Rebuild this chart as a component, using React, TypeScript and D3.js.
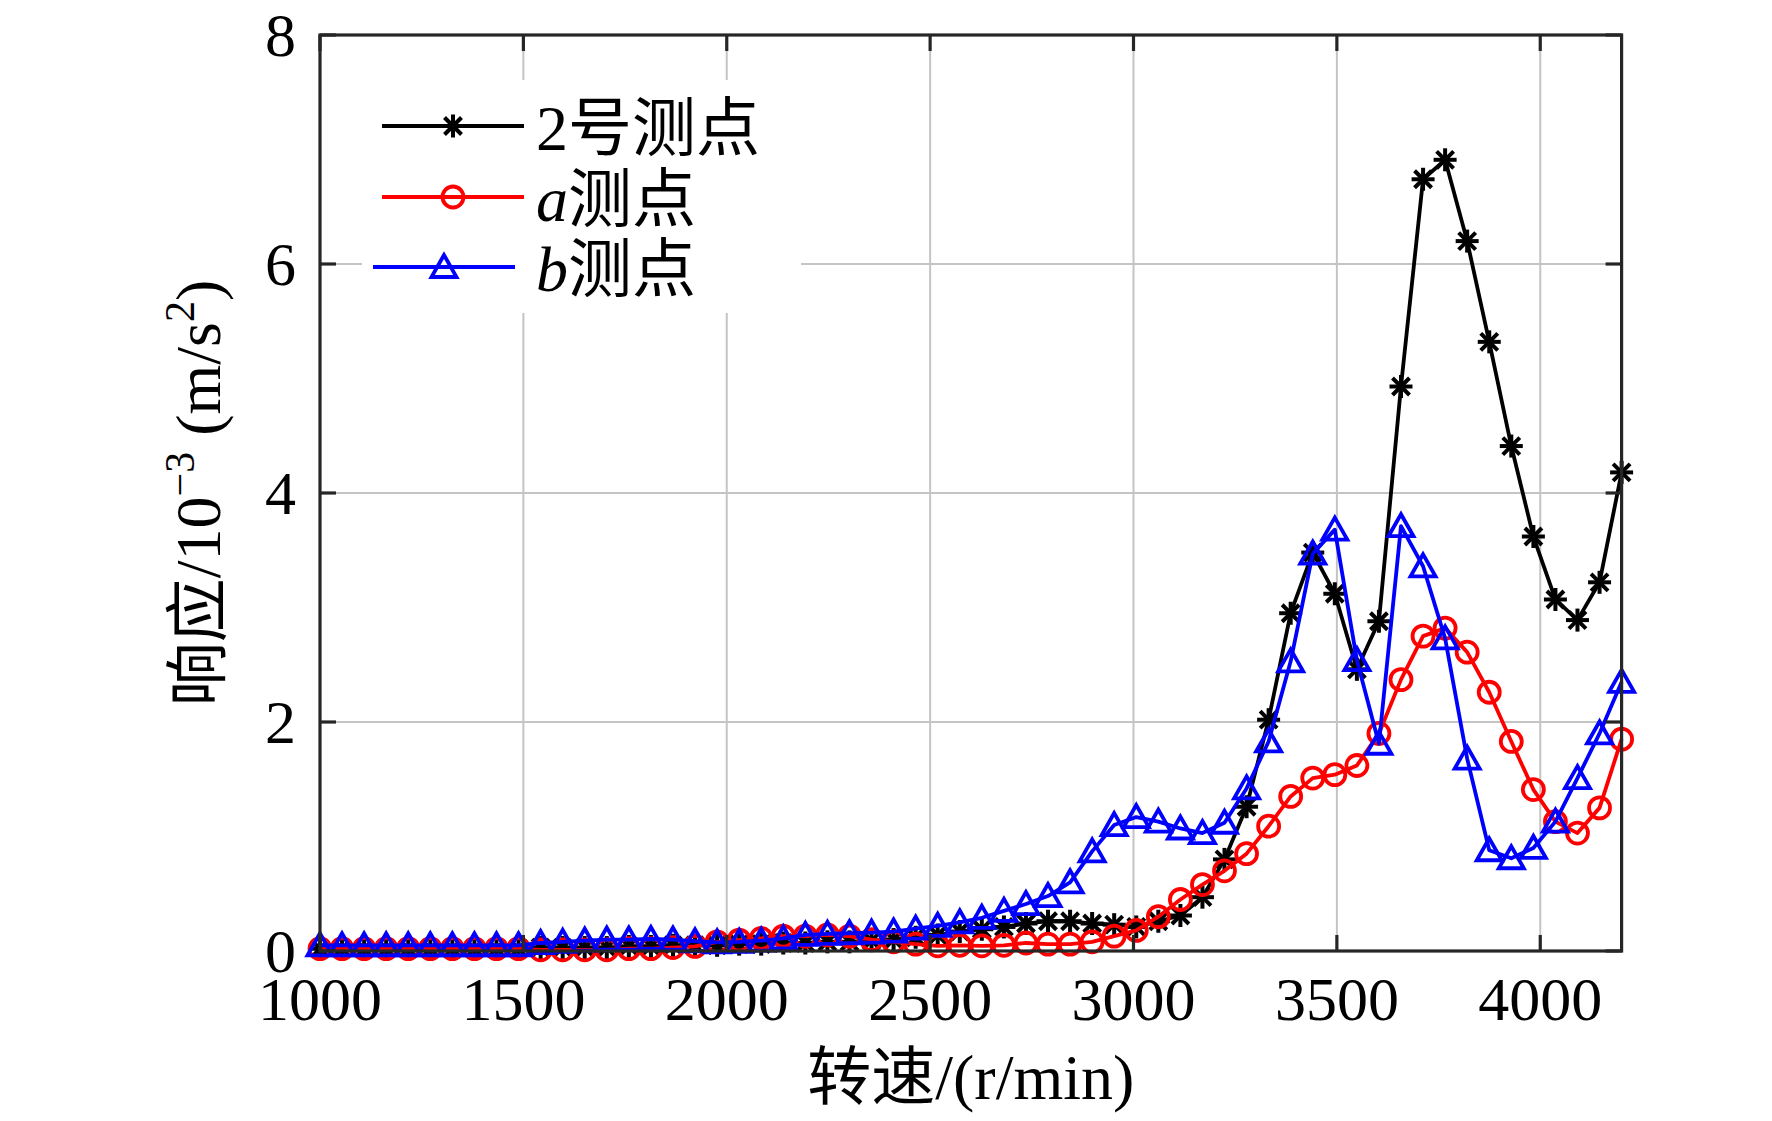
import * as d3 from "d3";

// rotor speed grid (r/min), 60 samples from 1000 to 4200
const speeds = [
  1000, 1054.2, 1108.5, 1162.7, 1216.9, 1271.2, 1325.4, 1379.7, 1433.9, 1488.1,
  1542.4, 1596.6, 1650.8, 1705.1, 1759.3, 1813.6, 1867.8, 1922.0, 1976.3, 2030.5,
  2084.7, 2139.0, 2193.2, 2247.5, 2301.7, 2355.9, 2410.2, 2464.4, 2518.6, 2572.9,
  2627.1, 2681.4, 2735.6, 2789.8, 2844.1, 2898.3, 2952.5, 3006.8, 3061.0, 3115.3,
  3169.5, 3223.7, 3278.0, 3332.2, 3386.4, 3440.7, 3494.9, 3549.2, 3603.4, 3657.6,
  3711.9, 3766.1, 3820.3, 3874.6, 3928.8, 3983.1, 4037.3, 4091.5, 4145.8, 4200,
];

const point2 = [
  0.02, 0.02, 0.02, 0.02, 0.02, 0.02, 0.02, 0.02, 0.02, 0.02,
  0.03, 0.03, 0.03, 0.03, 0.04, 0.04, 0.05, 0.05, 0.05, 0.06,
  0.06, 0.07, 0.07, 0.08, 0.08, 0.09, 0.10, 0.12, 0.14, 0.17,
  0.19, 0.21, 0.24, 0.26, 0.26, 0.24, 0.23, 0.21, 0.26, 0.31,
  0.47, 0.80, 1.26, 2.02, 2.95, 3.48, 3.12, 2.46, 2.88, 4.93,
  6.74, 6.91, 6.20, 5.32, 4.41, 3.62, 3.07, 2.89, 3.22, 4.18,
];

const pointA = [
  0.02, 0.02, 0.02, 0.02, 0.02, 0.02, 0.02, 0.02, 0.02, 0.02,
  0.01, 0.01, 0.01, 0.01, 0.02, 0.02, 0.03, 0.04, 0.08, 0.095,
  0.11, 0.13, 0.13, 0.14, 0.13, 0.10, 0.08, 0.06, 0.045, 0.05,
  0.045, 0.05, 0.07, 0.06, 0.06, 0.08, 0.13, 0.18, 0.30, 0.45,
  0.58, 0.70, 0.85, 1.09, 1.35, 1.51, 1.54, 1.62, 1.90, 2.37,
  2.75, 2.82, 2.61, 2.26, 1.83, 1.41, 1.13, 1.03, 1.25, 1.85,
];

const pointB = [
  0.05, 0.05, 0.05, 0.05, 0.05, 0.05, 0.05, 0.05, 0.05, 0.05,
  0.07, 0.08, 0.09, 0.10, 0.10, 0.105, 0.10, 0.085, 0.075, 0.08,
  0.09, 0.11, 0.14, 0.15, 0.155, 0.16, 0.17, 0.195, 0.22, 0.25,
  0.29, 0.35, 0.41, 0.48, 0.60, 0.87, 1.10, 1.17, 1.13, 1.07,
  1.03, 1.12, 1.42, 1.83, 2.53, 3.47, 3.68, 2.54, 1.81, 3.71,
  3.36, 2.73, 1.68, 0.88, 0.81, 0.90, 1.13, 1.51, 1.90, 2.35,
];

const legendPrefix = ["2", "a", "b"];
const legendSuffix = ["号测点", "测点", "测点"];
const xTicks = [1000, 1500, 2000, 2500, 3000, 3500, 4000];
const yTicks = [0, 2, 4, 6, 8];

const W = 1772, H = 1121;
const m = { l: 320, r: 1621.6, t: 35, b: 951 };
const SERIF = "'Liberation Serif', 'Times New Roman', serif";
const FONT = "'Liberation Serif', 'Times New Roman', 'Noto Sans CJK SC', serif";

const x = d3.scaleLinear([1000, 4200], [m.l, m.r]);
const y = d3.scaleLinear([0, 8], [m.b, m.t]);

type Marker = "star" | "circle" | "tri";

function MarkerShape({ kind, cx, cy, color }: { kind: Marker; cx: number; cy: number; color: string }) {
  if (kind === "circle") {
    return <circle cx={cx} cy={cy} r={10.5} fill="none" stroke={color} strokeWidth={3.8} />;
  }
  if (kind === "tri") {
    const p = [[cx, cy - 12], [cx - 12.5, cy + 10], [cx + 12.5, cy + 10]];
    return <polygon points={p.map((q) => q.join(",")).join(" ")} fill="none" stroke={color} strokeWidth={3.8} strokeLinejoin="miter" />;
  }
  const r = 11.5, d = 8.5;
  return (
    <g stroke={color} strokeWidth={4}>
      <line x1={cx - r} y1={cy} x2={cx + r} y2={cy} />
      <line x1={cx} y1={cy - r} x2={cx} y2={cy + r} />
      <line x1={cx - d} y1={cy - d} x2={cx + d} y2={cy + d} />
      <line x1={cx - d} y1={cy + d} x2={cx + d} y2={cy - d} />
    </g>
  );
}

const series: { values: number[]; color: string; marker: Marker }[] = [
  { values: point2, color: "#000000", marker: "star" },
  { values: pointA, color: "#ff0000", marker: "circle" },
  { values: pointB, color: "#0000ff", marker: "tri" },
];

export default function App() {
  const line = d3.line<number>().x((_, i) => x(speeds[i])).y((v) => y(v));
  const axisColor = "#262626";
  const gridColor = "#c4c4c4";
  const rowY = [126, 197, 267];
  const rowX0 = [382, 382, 373];
  return (
    <svg width={W} height={H} viewBox={`0 0 ${W} ${H}`} style={{ position: "absolute", left: 0, top: 0, background: "#fff" }} fontFamily={FONT}>
      <rect width={W} height={H} fill="#fff" />
      {/* grid */}
      {xTicks.map((t) => (
        <line key={"gx" + t} x1={x(t)} x2={x(t)} y1={m.t} y2={m.b} stroke={gridColor} strokeWidth={2} />
      ))}
      {yTicks.map((t) => (
        <line key={"gy" + t} x1={m.l} x2={m.r} y1={y(t)} y2={y(t)} stroke={gridColor} strokeWidth={2} />
      ))}
      {/* legend background */}
      <rect x={362} y={80} width={439} height={233} fill="#fff" />
      {/* series */}
      {series.map((s, k) => (
        <g key={k}>
          <path d={line(s.values)!} fill="none" stroke={s.color} strokeWidth={3.8} strokeLinejoin="round" />
          {s.values.map((v, i) => (
            <MarkerShape key={i} kind={s.marker} cx={x(speeds[i])} cy={y(v)} color={s.color} />
          ))}
        </g>
      ))}
      {/* axes box and ticks */}
      <rect x={m.l} y={m.t} width={m.r - m.l} height={m.b - m.t} fill="none" stroke={axisColor} strokeWidth={3.2} />
      {xTicks.map((t) => (
        <g key={"tx" + t} stroke={axisColor} strokeWidth={3.2}>
          <line x1={x(t)} x2={x(t)} y1={m.b} y2={m.b - 16} />
          <line x1={x(t)} x2={x(t)} y1={m.t} y2={m.t + 16} />
        </g>
      ))}
      {yTicks.map((t) => (
        <g key={"ty" + t} stroke={axisColor} strokeWidth={3.2}>
          <line x1={m.l} x2={m.l + 16} y1={y(t)} y2={y(t)} />
          <line x1={m.r} x2={m.r - 16} y1={y(t)} y2={y(t)} />
        </g>
      ))}
      {xTicks.map((t) => (
        <text key={"lx" + t} x={x(t)} y={1020} textAnchor="middle" fontSize={62} fill="#000">{t}</text>
      ))}
      {yTicks.map((t) => (
        <text key={"ly" + t} x={296} y={y(t)} dy="0.34em" textAnchor="end" fontSize={62} fill="#000">{t}</text>
      ))}
      {/* axis titles */}
      <text x={(m.l + m.r) / 2} y={1099} textAnchor="middle" fontSize={64} fill="#000">转速/(r/min)</text>
      <text transform={`translate(220,${(m.t + m.b) / 2}) rotate(-90)`} textAnchor="middle" fontSize={64} fill="#000">
        响应/10<tspan fontSize={42} dy={-26}>−3</tspan>
        <tspan dy={26}> (m/s</tspan>
        <tspan fontSize={42} dy={-26}>2</tspan>
        <tspan dy={26}>)</tspan>
      </text>
      {/* legend */}
      {series.map((s, k) => (
        <g key={"lg" + k}>
          <line x1={rowX0[k]} x2={rowX0[k] + 142} y1={rowY[k]} y2={rowY[k]} stroke={s.color} strokeWidth={4} />
          <MarkerShape kind={s.marker} cx={rowX0[k] + 71} cy={rowY[k]} color={s.color} />
          <text x={536} y={rowY[k] + 24} fontSize={64} fill="#000">
            <tspan fontFamily={SERIF} fontStyle={k === 0 ? "normal" : "italic"}>{legendPrefix[k]}</tspan>
            <tspan>{legendSuffix[k]}</tspan>
          </text>
        </g>
      ))}
    </svg>
  );
}
